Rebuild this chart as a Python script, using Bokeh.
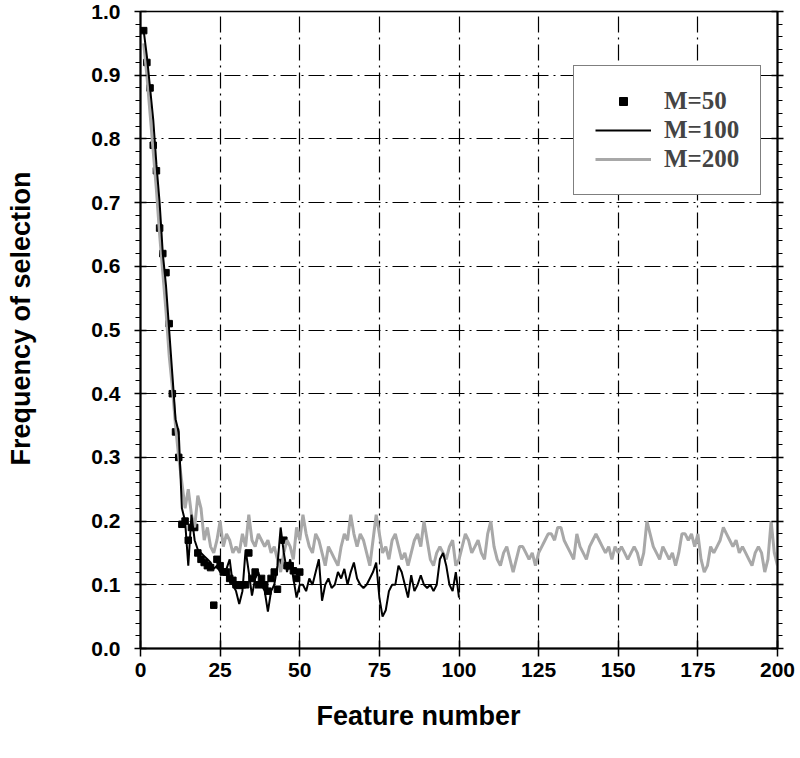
import numpy as np
from bokeh.plotting import figure
from bokeh.models import (Title, Legend, LegendItem, LinearAxis, FixedTicker, Range1d)
from bokeh.embed import file_html
from bokeh.resources import INLINE

# ---------------- data ----------------
m50_freq = [0.97, 0.92, 0.88, 0.79, 0.75, 0.66, 0.62, 0.59, 0.51, 0.40,
            0.34, 0.30, 0.195, 0.20, 0.17, 0.19, 0.19, 0.15, 0.14, 0.135,
            0.13, 0.127, 0.068, 0.14, 0.13, 0.12, 0.12, 0.11, 0.107, 0.10,
            0.099, 0.10, 0.10, 0.15, 0.11, 0.12, 0.10, 0.11, 0.10, 0.09,
            0.11, 0.12, 0.093, 0.135, 0.17, 0.13, 0.13, 0.122, 0.11, 0.12]
m50_feat = list(range(1, len(m50_freq) + 1))

m100_freq = [0.97, 0.93, 0.88, 0.83, 0.76, 0.70, 0.62, 0.57, 0.50, 0.43,
             0.36, 0.34, 0.22, 0.20, 0.13, 0.21, 0.17, 0.155, 0.15, 0.145,
             0.14, 0.135, 0.125, 0.13, 0.12, 0.12, 0.125, 0.14, 0.10, 0.09,
             0.07, 0.09, 0.155, 0.12, 0.083, 0.11, 0.12, 0.10, 0.09, 0.058,
             0.09, 0.10, 0.13, 0.19, 0.15, 0.12, 0.14, 0.11, 0.08, 0.10,
             0.10, 0.09, 0.11, 0.10, 0.12, 0.14, 0.075, 0.10, 0.11, 0.095,
             0.10, 0.12, 0.11, 0.125, 0.10, 0.12, 0.135, 0.11, 0.10, 0.095,
             0.10, 0.11, 0.12, 0.135, 0.08, 0.05, 0.06, 0.09, 0.10, 0.10,
             0.13, 0.12, 0.10, 0.08, 0.115, 0.09, 0.10, 0.115, 0.10, 0.095,
             0.10, 0.09, 0.10, 0.14, 0.15, 0.13, 0.10, 0.09, 0.12, 0.08]
m100_feat = list(range(1, len(m100_freq) + 1))

m200_freq = [0.95, 0.90, 0.84, 0.78, 0.72, 0.65, 0.59, 0.53, 0.46, 0.41,
             0.35, 0.30, 0.26, 0.22, 0.25, 0.21, 0.19, 0.24, 0.22, 0.17,
             0.19, 0.16, 0.15, 0.17, 0.20, 0.16, 0.18, 0.17, 0.15, 0.16,
             0.15, 0.18, 0.16, 0.21, 0.17, 0.16, 0.18, 0.17, 0.16, 0.17,
             0.15, 0.16, 0.14, 0.12, 0.15, 0.17, 0.16, 0.14, 0.19, 0.17,
             0.21, 0.18, 0.16, 0.15, 0.18, 0.17, 0.15, 0.13, 0.16, 0.15,
             0.14, 0.13, 0.16, 0.18, 0.17, 0.21, 0.18, 0.16, 0.18, 0.17,
             0.15, 0.13, 0.17, 0.21, 0.18, 0.15, 0.16, 0.14, 0.17, 0.18,
             0.16, 0.14, 0.15, 0.13, 0.15, 0.17, 0.18, 0.16, 0.20, 0.17,
             0.14, 0.13, 0.15, 0.16, 0.15, 0.14, 0.16, 0.17, 0.13, 0.14,
             0.16, 0.18, 0.17, 0.15, 0.16, 0.17, 0.15, 0.14, 0.18, 0.20,
             0.16, 0.14, 0.13, 0.15, 0.16, 0.14, 0.12, 0.14, 0.16, 0.16,
             0.15, 0.14, 0.15, 0.13, 0.15, 0.16, 0.17, 0.18, 0.18, 0.17,
             0.19, 0.19, 0.17, 0.16, 0.15, 0.14, 0.18, 0.16, 0.15, 0.14,
             0.16, 0.17, 0.18, 0.17, 0.16, 0.15, 0.16, 0.14, 0.16, 0.15,
             0.16, 0.15, 0.14, 0.15, 0.16, 0.15, 0.13, 0.15, 0.20, 0.18,
             0.16, 0.15, 0.14, 0.16, 0.15, 0.14, 0.15, 0.13, 0.15, 0.18,
             0.18, 0.17, 0.18, 0.16, 0.18, 0.14, 0.12, 0.13, 0.16, 0.15,
             0.16, 0.17, 0.19, 0.18, 0.17, 0.16, 0.17, 0.15, 0.16, 0.15,
             0.14, 0.13, 0.15, 0.16, 0.15, 0.12, 0.14, 0.20, 0.15, 0.13]
m200_feat = list(range(1, len(m200_freq) + 1))

x_ticks = [0, 25, 50, 75, 100, 125, 150, 175, 200]
x_tick_labels = ["0", "25", "50", "75", "100", "125", "150", "175", "200"]
y_ticks = [0.0, 0.1, 0.2, 0.3, 0.4, 0.5, 0.6, 0.7, 0.8, 0.9, 1.0]
y_tick_labels = ["0.0", "0.1", "0.2", "0.3", "0.4", "0.5", "0.6", "0.7", "0.8", "0.9", "1.0"]
y_minor_ticks = [round(i * 0.02, 2) for i in range(51)]

series_labels = ["M=50", "M=100", "M=200"]
x_title = "Feature number"
y_title = "Frequency of selection"

# ---------------- figure ----------------
p = figure(width=798, height=756, x_range=Range1d(0, 200), y_range=Range1d(0, 1),
           output_backend="svg", toolbar_location=None,
           min_border_left=140, min_border_right=21, min_border_top=11, min_border_bottom=108)
p.background_fill_color = "white"
p.border_fill_color = "white"
p.outline_line_color = "black"
p.outline_line_width = 1.5

xt = FixedTicker(ticks=x_ticks)
yt = FixedTicker(ticks=y_ticks, minor_ticks=y_minor_ticks)

for g in (p.xgrid, p.ygrid):
    g.grid_line_color = "black"
    g.grid_line_dash = "16 5 2 5"
    g.grid_line_width = 1.2
p.xgrid.ticker = xt
p.ygrid.ticker = yt

tick_font = "Liberation Sans"
ax = p.xaxis[0]
ax.ticker = xt
ax.major_label_overrides = {t: l for t, l in zip(x_ticks, x_tick_labels)}
ax.major_tick_in = 8
ax.major_tick_out = 8
ax.minor_tick_line_color = None
ay = p.yaxis[0]
ay.ticker = yt
ay.major_label_overrides = {t: l for t, l in zip(y_ticks, y_tick_labels)}
ay.major_tick_in = 6
ay.major_tick_out = 6
ay.minor_tick_in = 0
ay.minor_tick_out = 5
# invisible axis label used only to widen the axis panel (pushes the title outward)
ay.axis_label = " "
ay.axis_label_text_font_size = "10px"
ay.axis_label_text_color = None
ay.axis_label_standoff = 37
for a in (ax, ay):
    a.axis_line_color = "black"
    a.axis_line_width = 2
    a.major_tick_line_color = "black"
    a.major_tick_line_width = 1.5
    a.minor_tick_line_width = 1.2
    a.major_label_text_font = tick_font
    a.major_label_text_font_style = "bold"
    a.major_label_text_font_size = "21px"
    a.major_label_text_color = "black"
ax.major_label_standoff = 6
ay.major_label_standoff = 14

rax = LinearAxis(ticker=yt, major_tick_in=6, major_tick_out=6, minor_tick_in=0, minor_tick_out=5,
                 axis_line_width=2, major_tick_line_width=1.5, minor_tick_line_width=1.2,
                 major_label_text_font_size="0px", major_label_text_color=None,
                 major_label_standoff=0)
p.add_layout(rax, "right")

# ---------------- data marks ----------------
r50 = p.scatter(m50_feat, m50_freq, marker="square", size=6.5, color="black")
r200 = p.line(m200_feat, m200_freq, line_color="#a8a8a8", line_width=3)
r100 = p.line(m100_feat, m100_freq, line_color="black", line_width=2)

legend = Legend(items=[LegendItem(label=series_labels[0], renderers=[r50]),
                       LegendItem(label=series_labels[1], renderers=[r100]),
                       LegendItem(label=series_labels[2], renderers=[r200])],
                location=(433, 453))
legend.border_line_color = "black"
legend.border_line_width = 1.5
legend.background_fill_color = "white"
legend.background_fill_alpha = 1
legend.label_text_font = "Liberation Serif"
legend.label_text_font_style = "bold"
legend.label_text_font_size = "25px"
legend.glyph_width = 56
legend.glyph_height = 20
legend.label_height = 20
legend.label_standoff = 13
legend.padding = 21
legend.spacing = 1
legend.margin = 0
p.add_layout(legend)

title_font = "Liberation Sans"
p.add_layout(Title(text=x_title, align="left", offset=176, standoff=38,
                   text_font=title_font, text_font_style="bold", text_font_size="27px",
                   text_color="black"), "below")
p.add_layout(Title(text=y_title, align="left", offset=183, standoff=4,
                   text_font=title_font, text_font_style="bold", text_font_size="27px",
                   text_color="black"), "left")

open("out.html", "w").write(file_html(p, INLINE))
